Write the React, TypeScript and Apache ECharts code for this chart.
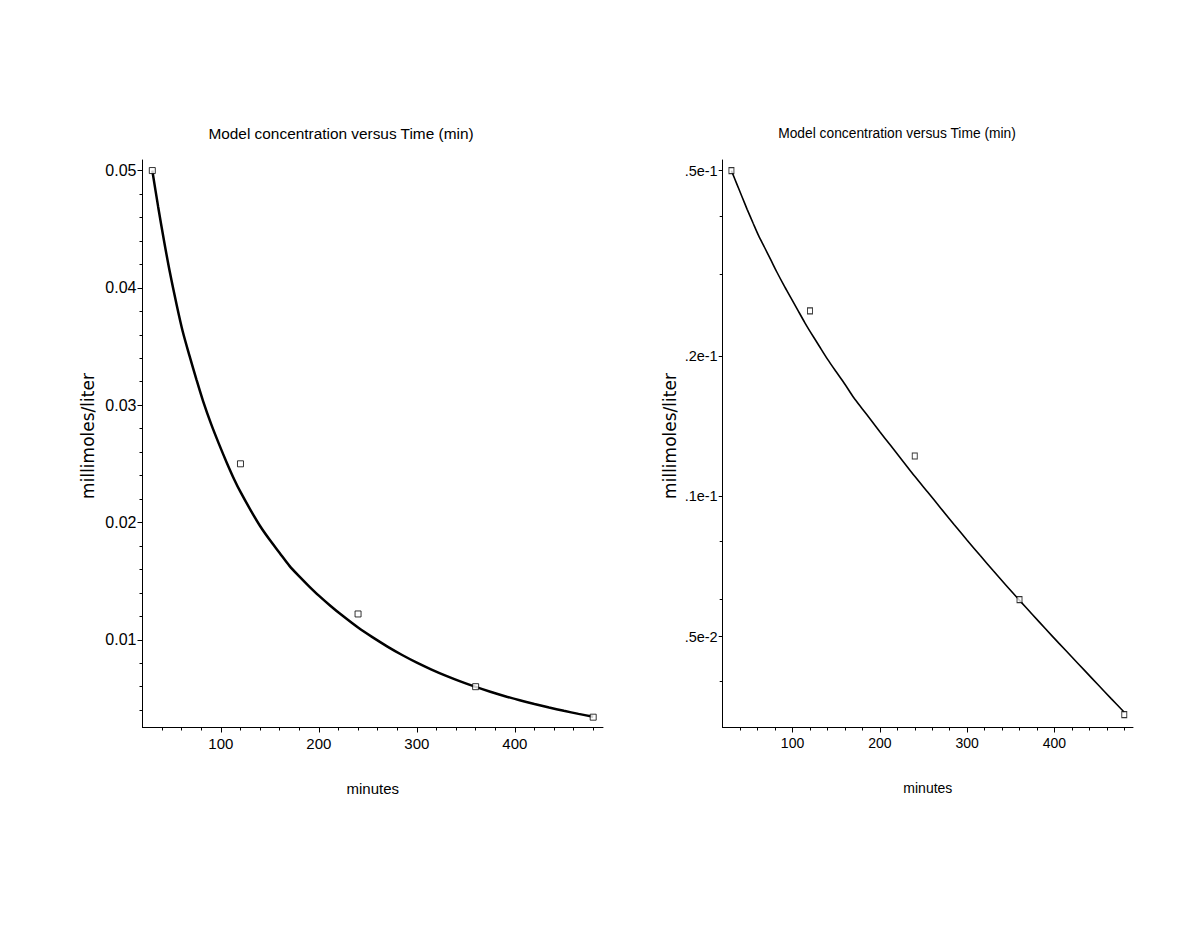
import React, { useEffect, useRef } from "react";
import * as echarts from "echarts";

const titleText = "Model concentration versus Time (min)";
const xName = "minutes";
const yName = "millimoles/liter";

// observed data (open squares)
const obsTime = [30, 120, 240, 360, 480];
const obsConc = [0.05, 0.025, 0.0122, 0.006, 0.0034];

// fitted model curve
const modelTime = [30, 36, 42, 48, 55, 61, 68, 75, 82, 90, 98, 106, 114, 120, 130, 140, 150, 160, 170, 180, 190, 200, 212, 224, 240, 255, 270, 285, 300, 315, 330, 345, 360, 375, 390, 405, 420, 435, 450, 465, 480];
const modelConc = [0.05, 0.0469, 0.0440, 0.0413, 0.0385, 0.0363, 0.0342, 0.0322, 0.0303, 0.0284, 0.0267, 0.0251, 0.0236, 0.0226, 0.0211, 0.0197, 0.0185, 0.0174, 0.0163, 0.0154, 0.01456, 0.01376, 0.01288, 0.01206, 0.01104, 0.0102, 0.00942, 0.0087, 0.00805, 0.00746, 0.00692, 0.00643, 0.00598, 0.00557, 0.00519, 0.00484, 0.00452, 0.00422, 0.00394, 0.00368, 0.00344];

// ticks
const xTickValues = [100, 200, 300, 400];
const xMinorTicks = [40, 60, 80, 120, 140, 160, 180, 220, 240, 260, 280, 320, 340, 360, 380, 420, 440, 460, 480];
const linYTickValues = [0.01, 0.02, 0.03, 0.04, 0.05];
const linYMinorTicks = [0.004, 0.006, 0.008, 0.012, 0.014, 0.016, 0.018, 0.022, 0.024, 0.026, 0.028, 0.032, 0.034, 0.036, 0.038, 0.042, 0.044, 0.046, 0.048];
const logYTickValues = [0.005, 0.01, 0.02, 0.05];
const logYTickLabels = [".5e-2", ".1e-1", ".2e-1", ".5e-1"];
const logYMinorTicks = [0.004, 0.006, 0.008, 0.03, 0.04];

const FONT = "'Liberation Sans', Arial, sans-serif";
const BLACK = "#000";

function buildOption() {
  const model = modelTime.map((t, i) => [t, modelConc[i]]);
  const obs = obsTime.map((t, i) => [t, obsConc[i]]);

  const majorX = (grid: number, fontSize: number) => ({
    gridIndex: grid,
    type: "value",
    position: "bottom",
    min: 20,
    max: 490,
    axisLine: { show: true, onZero: false, lineStyle: { color: BLACK, width: 1 } },
    axisTick: { show: true, customValues: xTickValues, length: 5, lineStyle: { color: BLACK, width: 1 } },
    axisLabel: { show: true, customValues: xTickValues, margin: 8, color: BLACK, fontSize, fontFamily: FONT },
    splitLine: { show: false },
    name: xName,
    nameLocation: "middle",
    nameGap: 53,
    nameTextStyle: { color: BLACK, fontSize, fontFamily: FONT },
  });
  const minorX = (grid: number) => ({
    gridIndex: grid,
    type: "value",
    position: "bottom",
    min: 20,
    max: 490,
    axisLine: { show: false, onZero: false },
    axisTick: { show: true, customValues: xMinorTicks, length: 3, lineStyle: { color: BLACK, width: 1 } },
    axisLabel: { show: false },
    splitLine: { show: false },
  });

  return {
    animation: false,
    backgroundColor: "#fff",
    grid: [
      { left: 142.5, top: 160, width: 460.5, height: 567.5 },
      { left: 722.7, top: 160, width: 410.3, height: 567.5 },
    ],
    xAxis: [majorX(0, 15), minorX(0), majorX(1, 14), minorX(1)],
    yAxis: [
      {
        gridIndex: 0,
        type: "value",
        position: "left",
        min: 0.00252,
        max: 0.0509,
        axisLine: { show: true, onZero: false, lineStyle: { color: BLACK, width: 1 } },
        axisTick: { show: true, customValues: linYTickValues, length: 5, lineStyle: { color: BLACK } },
        axisLabel: {
          show: true,
          customValues: linYTickValues,
          margin: 6,
          color: BLACK,
          fontSize: 16,
          fontFamily: FONT,
          formatter: (v: number) => v.toFixed(2),
        },
        splitLine: { show: false },
      },
      {
        gridIndex: 0,
        type: "value",
        position: "left",
        min: 0.00252,
        max: 0.0509,
        axisLine: { show: false, onZero: false },
        axisTick: { show: true, customValues: linYMinorTicks, length: 3, lineStyle: { color: BLACK } },
        axisLabel: { show: false },
        splitLine: { show: false },
      },
      {
        gridIndex: 1,
        type: "log",
        logBase: 10,
        position: "left",
        min: 0.00319,
        max: 0.0527,
        axisLine: { show: true, onZero: false, lineStyle: { color: BLACK, width: 1 } },
        axisTick: { show: true, customValues: logYTickValues, length: 4, lineStyle: { color: BLACK } },
        axisLabel: {
          show: true,
          customValues: logYTickValues,
          margin: 5,
          color: BLACK,
          fontSize: 14.5,
          fontFamily: FONT,
          formatter: (v: number) => {
            let best = 0;
            for (let i = 1; i < logYTickValues.length; i++) {
              if (Math.abs(Math.log(logYTickValues[i] / v)) < Math.abs(Math.log(logYTickValues[best] / v))) best = i;
            }
            return logYTickLabels[best];
          },
        },
        splitLine: { show: false },
        minorTick: { show: false },
      },
      {
        gridIndex: 1,
        type: "log",
        logBase: 10,
        position: "left",
        min: 0.00319,
        max: 0.0527,
        axisLine: { show: false, onZero: false },
        axisTick: { show: true, customValues: logYMinorTicks, length: 3, lineStyle: { color: BLACK } },
        axisLabel: { show: false },
        splitLine: { show: false },
      },
    ],
    graphic: [
      {
        type: "text",
        x: 341,
        y: 133,
        style: { text: titleText, fill: BLACK, font: `15.4px ${FONT}`, align: "center", verticalAlign: "middle" },
      },
      {
        type: "text",
        x: 897,
        y: 133,
        style: { text: titleText, fill: BLACK, font: `13.8px ${FONT}`, align: "center", verticalAlign: "middle" },
      },
      {
        type: "text",
        x: 87.5,
        y: 436,
        rotation: Math.PI / 2,
        style: { text: yName, fill: BLACK, font: `17px 'DejaVu Sans', sans-serif`, align: "center", verticalAlign: "middle" },
      },
      {
        type: "text",
        x: 669.5,
        y: 436,
        rotation: Math.PI / 2,
        style: { text: yName, fill: BLACK, font: `17px 'DejaVu Sans', sans-serif`, align: "center", verticalAlign: "middle" },
      },
    ],
    series: [
      {
        type: "line",
        xAxisIndex: 0,
        yAxisIndex: 0,
        data: model,
        smooth: 0.3,
        showSymbol: false,
        lineStyle: { color: BLACK, width: 2.5 },
        z: 2,
      },
      {
        type: "scatter",
        xAxisIndex: 0,
        yAxisIndex: 0,
        data: obs,
        symbol: "rect",
        symbolSize: 6,
        itemStyle: { color: "#fff", borderColor: BLACK, borderWidth: 1 },
        z: 3,
      },
      {
        type: "line",
        xAxisIndex: 2,
        yAxisIndex: 2,
        data: model,
        smooth: 0.3,
        showSymbol: false,
        lineStyle: { color: BLACK, width: 1.6 },
        z: 2,
      },
      {
        type: "scatter",
        xAxisIndex: 2,
        yAxisIndex: 2,
        data: obs,
        symbol: "rect",
        symbolSize: [5, 6],
        itemStyle: { color: "#fff", borderColor: BLACK, borderWidth: 1 },
        z: 3,
      },
    ],
  };
}

export default function App() {
  const ref = useRef<HTMLDivElement>(null);
  useEffect(() => {
    if (!ref.current) return;
    const chart = echarts.init(ref.current, undefined, { renderer: "svg" });
    chart.setOption(buildOption() as any);
    return () => chart.dispose();
  }, []);
  return (
    <div
      ref={ref}
      style={{ position: "fixed", left: 0, top: 0, width: 1198, height: 944, background: "#fff" }}
    />
  );
}
